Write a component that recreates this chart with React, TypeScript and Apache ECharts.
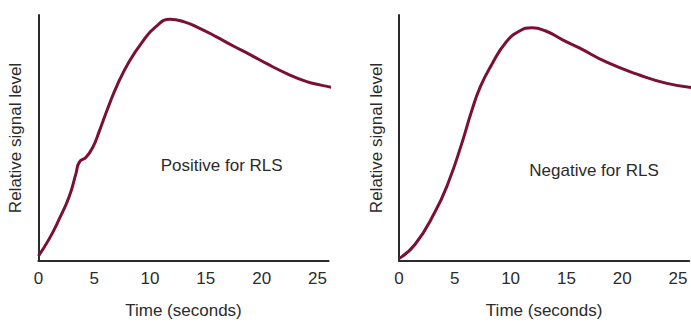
import React, { useEffect, useRef } from "react";
import * as echarts from "echarts";

const xTicks = [0, 5, 10, 15, 20, 25];
const positiveCurve: [number, number][] = [
  [0, 2], [0.98, 9.1], [1.87, 17.1], [2.77, 26.3], [3.37, 35.6], [3.67, 40.2],
  [4.27, 42.2], [4.87, 46.2], [5.46, 52.8], [6.21, 62], [7.1, 71.9],
  [8.15, 81.2], [9.3, 89.0], [10.5, 95.2], [11.8, 98.3], [13.07, 97.2],
  [14.5, 94.5], [16.0, 91.0], [17.46, 87.4], [19.0, 83.8], [20.46, 80.2],
  [22.25, 76.2], [24.04, 72.9], [25.3, 71.5], [26.42, 70.5],
];
const negativeCurve: [number, number][] = [
  [0, 1], [1.43, 6.7], [3.23, 20], [4.42, 31.9], [5.62, 47.7], [6.51, 61],
  [7.3, 71.0], [8.3, 79.8], [9.6, 89.0], [10.8, 93.5], [11.9, 94.8],
  [13.1, 93.6], [14.7, 89.8], [16.2, 86.5], [18.6, 80.8], [21.6, 75.5],
  [24.0, 72.2], [26.2, 70.5],
];
const panelLabels = ["Positive for RLS", "Negative for RLS"];
const xName = "Time (seconds)";
const yName = "Relative signal level";

const FONT = "Liberation Sans, Arial, sans-serif";
const FS = 17;
const TEXT = "#2b2b2b";
const AXIS = "#2b2b2b";
const CURVE = "#7b1035";

export default function App() {
  const ref = useRef<HTMLDivElement>(null);
  useEffect(() => {
    if (!ref.current) return;
    const chart = echarts.init(ref.current, null, { renderer: "svg" });
    const xAxis = (gi: number) => ({
      type: "value",
      gridIndex: gi,
      min: 0,
      max: 26,
      interval: 5,
      name: xName,
      nameLocation: "middle",
      nameGap: 41,
      nameTextStyle: { fontFamily: FONT, fontSize: FS, color: TEXT },
      axisLine: { show: true, lineStyle: { color: AXIS, width: 2 } },
      axisTick: { show: false },
      splitLine: { show: false },
      axisLabel: {
        fontFamily: FONT, fontSize: FS, color: TEXT, margin: 9,
        customValues: xTicks,
        formatter: (v: number) => (xTicks.includes(v) ? String(v) : ""),
      },
    });
    const yAxis = (gi: number) => ({
      type: "value",
      gridIndex: gi,
      min: 0,
      max: 100,
      name: yName,
      nameLocation: "middle",
      nameRotate: 90,
      nameGap: 14,
      nameTextStyle: { fontFamily: FONT, fontSize: FS, color: TEXT },
      axisLine: { show: true, onZero: false, lineStyle: { color: AXIS, width: 2 } },
      axisTick: { show: false },
      axisLabel: { show: false },
      splitLine: { show: false },
    });
    const line = (gi: number, data: [number, number][]) => ({
      type: "line",
      xAxisIndex: gi,
      yAxisIndex: gi,
      data,
      smooth: 0.5,
      showSymbol: false,
      clip: false,
      lineStyle: { color: CURVE, width: 3 },
    });
    chart.setOption({
      animation: false,
      backgroundColor: "#ffffff",
      grid: [
        { left: 38.4, top: 15, width: 290.2, height: 252 },
        { left: 399, top: 15, width: 290.2, height: 252 },
      ],
      xAxis: [xAxis(0), xAxis(1)],
      yAxis: [yAxis(0), yAxis(1)],
      series: [line(0, positiveCurve), line(1, negativeCurve)],
      graphic: [
        {
          type: "text", x: 221.7, y: 165,
          style: { text: panelLabels[0], fontFamily: FONT, fontSize: FS, fill: TEXT, align: "center", verticalAlign: "middle" },
        },
        {
          type: "text", x: 594, y: 170,
          style: { text: panelLabels[1], fontFamily: FONT, fontSize: FS, fill: TEXT, align: "center", verticalAlign: "middle" },
        },
      ],
    });
    return () => chart.dispose();
  }, []);
  return (
    <div
      ref={ref}
      style={{ position: "fixed", left: 0, top: 0, width: 691, height: 324, background: "#fff" }}
    />
  );
}
